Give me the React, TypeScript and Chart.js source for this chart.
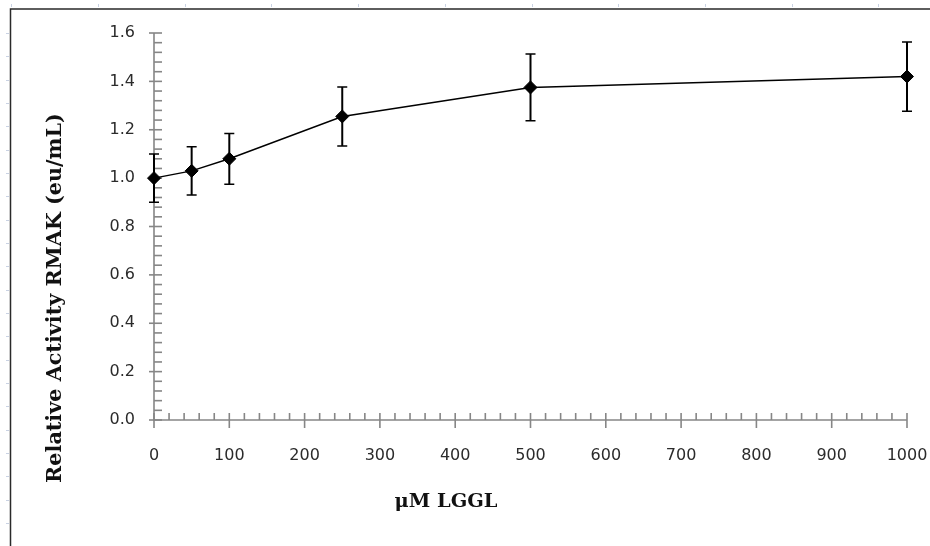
import React, { useEffect, useRef } from "react";
import { Chart, registerables } from "chart.js";

Chart.register(...registerables);

// ---- data ----
const concentrations = [0, 50, 100, 250, 500, 1000];
const activity = [1.0, 1.03, 1.08, 1.255, 1.375, 1.42];
const errors = [0.1, 0.1, 0.105, 0.122, 0.138, 0.143];
const xTitle = "μM LGGL";
const yTitle = "Relative Activity RMAK (eu/mL)";

const AXIS_COLOR = "#868686";

const framePlugin = {
  id: "framePlugin",
  beforeDraw(chart: any) {
    const { ctx, width, height } = chart;
    ctx.save();
    ctx.fillStyle = "#ffffff";
    ctx.fillRect(0, 0, width, height);
    // ruler marks
    ctx.strokeStyle = "#c9d2e3";
    ctx.lineWidth = 1;
    for (let x = 98 - 86.7; x < width; x += 86.7) {
      ctx.beginPath();
      ctx.moveTo(Math.round(x) + 0.5, 4);
      ctx.lineTo(Math.round(x) + 0.5, 7);
      ctx.stroke();
    }
    for (let y = 33; y < height; y += 23.33) {
      ctx.beginPath();
      ctx.moveTo(6, Math.round(y) + 0.5);
      ctx.lineTo(9, Math.round(y) + 0.5);
      ctx.stroke();
    }
    // frame
    ctx.strokeStyle = "#2a2a2a";
    ctx.lineWidth = 1.5;
    ctx.beginPath();
    ctx.moveTo(10.5, height);
    ctx.lineTo(10.5, 9);
    ctx.lineTo(width, 9);
    ctx.stroke();
    ctx.restore();
  },
  beforeDatasetsDraw(chart: any) {
    const { ctx } = chart;
    const xs = chart.scales.x;
    const ys = chart.scales.y;
    const x0 = xs.getPixelForValue(0);
    const y0 = ys.getPixelForValue(0);
    ctx.save();
    ctx.strokeStyle = AXIS_COLOR;
    ctx.lineWidth = 1.6;
    // axis lines
    ctx.beginPath();
    ctx.moveTo(x0, ys.getPixelForValue(1.6));
    ctx.lineTo(x0, y0);
    ctx.lineTo(xs.getPixelForValue(1000), y0);
    ctx.stroke();
    // x ticks
    for (let v = 0; v <= 1000; v += 20) {
      const px = xs.getPixelForValue(v);
      const major = v % 100 === 0;
      ctx.beginPath();
      ctx.moveTo(px, y0 - 7);
      ctx.lineTo(px, major ? y0 + 8 : y0);
      ctx.stroke();
    }
    // y ticks
    for (let i = 0; i <= 40; i++) {
      const v = i * 0.04;
      const py = ys.getPixelForValue(v);
      const major = i % 5 === 0;
      ctx.beginPath();
      ctx.moveTo(major ? x0 - 5 : x0, py);
      ctx.lineTo(x0 + 8, py);
      ctx.stroke();
    }
    // error bars
    ctx.strokeStyle = "#000000";
    concentrations.forEach((c, i) => {
      const px = xs.getPixelForValue(c);
      const top = ys.getPixelForValue(activity[i] + errors[i]);
      const bot = ys.getPixelForValue(activity[i] - errors[i]);
      ctx.lineWidth = 2;
      ctx.beginPath();
      ctx.moveTo(px, top);
      ctx.lineTo(px, bot);
      ctx.stroke();
      ctx.lineWidth = 1.5;
      ctx.beginPath();
      ctx.moveTo(px - 5, top);
      ctx.lineTo(px + 5, top);
      ctx.moveTo(px - 5, bot);
      ctx.lineTo(px + 5, bot);
      ctx.stroke();
    });
    ctx.restore();
  },
  afterDraw(chart: any) {
    const { ctx } = chart;
    ctx.save();
    ctx.fillStyle = "#111111";
    ctx.textAlign = "center";
    ctx.textBaseline = "middle";
    // y title
    ctx.font = 'bold 19px "DejaVu Serif"';
    let w = ctx.measureText(yTitle).width;
    let size = (19 * 370) / w;
    ctx.font = `bold ${size.toFixed(2)}px "DejaVu Serif"`;
    ctx.translate(56, 298);
    ctx.rotate(-Math.PI / 2);
    ctx.fillText(yTitle, 0, 0);
    ctx.setTransform(1, 0, 0, 1, 0, 0);
    // x title
    ctx.font = 'bold 19px "DejaVu Serif"';
    w = ctx.measureText(xTitle).width;
    size = (19 * 103) / w;
    ctx.font = `bold ${size.toFixed(2)}px "DejaVu Serif"`;
    ctx.fillText(xTitle, 446, 502);
    ctx.restore();
  },
};

export default function App() {
  const ref = useRef<HTMLCanvasElement>(null);
  useEffect(() => {
    if (!ref.current) return;
    const chart = new Chart(ref.current, {
      type: "scatter",
      data: {
        datasets: [
          {
            data: concentrations.map((c, i) => ({ x: c, y: activity[i] })),
            showLine: true,
            borderColor: "#000000",
            backgroundColor: "#000000",
            borderWidth: 1.5,
            pointStyle: "rectRot",
            pointRadius: 6.5,
            pointBorderWidth: 1,
            pointBackgroundColor: "#000000",
            pointBorderColor: "#000000",
            tension: 0,
            clip: false as any,
          },
        ],
      },
      options: {
        responsive: false,
        animation: false,
        devicePixelRatio: 1,
        layout: { padding: { left: 0, right: 23, top: 33, bottom: 0 } },
        plugins: {
          legend: { display: false },
          tooltip: { enabled: false },
        },
        scales: {
          x: {
            type: "linear",
            min: 0,
            max: 1000,
            grid: { display: false, drawTicks: false },
            border: { display: false },
            ticks: {
              stepSize: 100,
              padding: 26,
              color: "#2b2b2b",
              font: { family: '"DejaVu Sans"', size: 16 },
              maxRotation: 0,
              autoSkip: false,
              callback: (v: any) => String(v),
            },
            afterFit: (scale: any) => {
              scale.height = 126;
              scale.paddingLeft = 0;
              scale.paddingRight = 0;
            },
          },
          y: {
            type: "linear",
            min: 0,
            max: 1.6,
            grid: { display: false, drawTicks: false },
            border: { display: false },
            ticks: {
              stepSize: 0.2,
              padding: 19,
              color: "#2b2b2b",
              font: { family: '"DejaVu Sans"', size: 16 },
              callback: (v: any) => Number(v).toFixed(1),
            },
            afterFit: (scale: any) => {
              scale.width = 154;
              scale.paddingTop = 0;
              scale.paddingBottom = 0;
            },
          },
        },
      },
      plugins: [framePlugin],
    });
    return () => chart.destroy();
  }, []);
  return (
    <div style={{ position: "absolute", left: 0, top: 0, width: 930, height: 546 }}>
      <canvas ref={ref} width={930} height={546} />
    </div>
  );
}
